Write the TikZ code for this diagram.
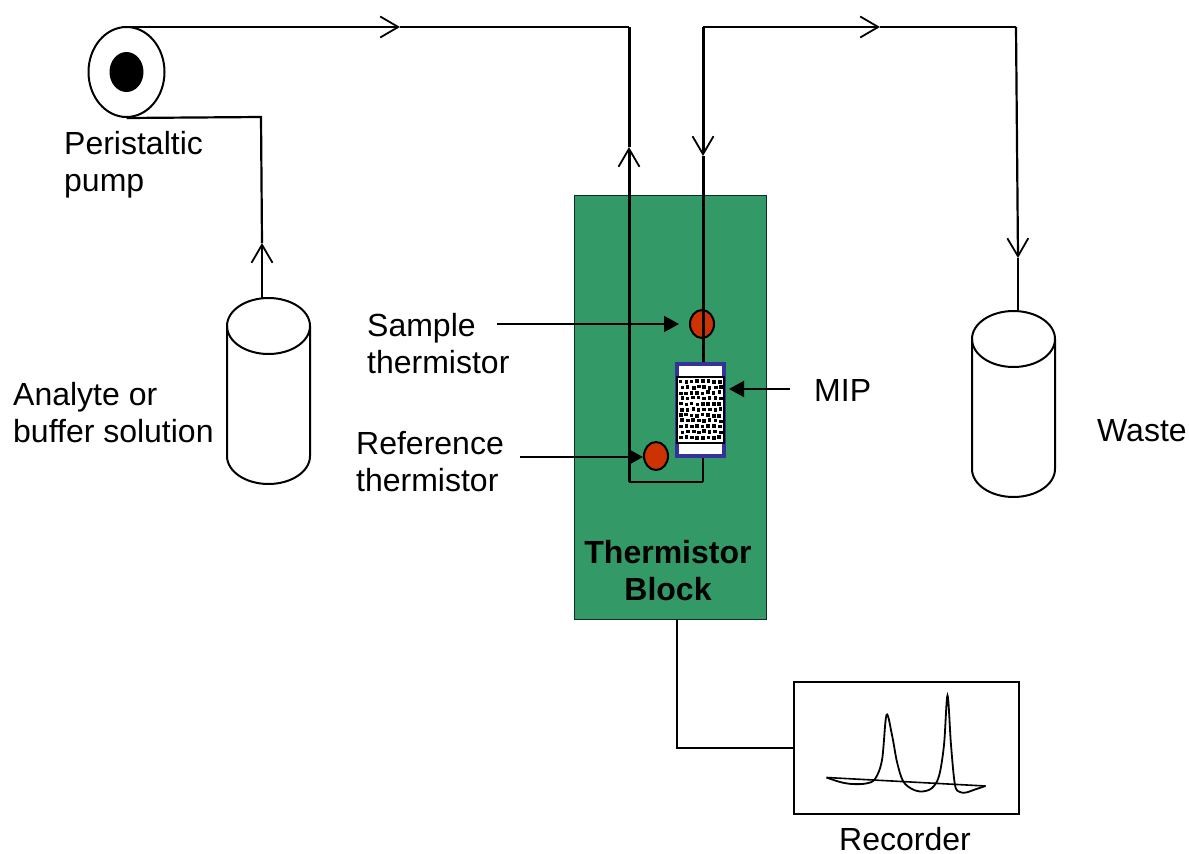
\documentclass[tikz,border=0pt]{standalone}
\usepackage{fontspec}
\setmainfont{Liberation Sans}
\usepackage{xcolor}
\usetikzlibrary{positioning,arrows.meta,shapes.geometric,calc}
\definecolor{blockgreen}{HTML}{339966}
\definecolor{thermred}{HTML}{CC3300}
\definecolor{mipblue}{HTML}{333399}

\begin{document}
\begin{tikzpicture}[
  x=1pt, y=-1pt,
  font=\fontsize{32}{37}\selectfont,
  lbl/.style={align=left, anchor=west, inner sep=0pt},
  tube/.style={draw, line width=2.2pt},
  thick tube/.style={draw, line width=3pt},
  flow/.style={-{Straight Barb[length=18pt,width=21pt,line width=1.8pt]}},
  pointer/.style={draw, line width=2pt, -{Triangle[length=15pt,width=16pt]}},
  lid/.style={draw, ellipse, line width=2pt, inner sep=0pt, outer sep=0pt, minimum width=83pt, minimum height=56pt},
  therm/.style={draw, ellipse, fill=thermred, line width=2pt, inner sep=0pt, minimum width=24pt, minimum height=28pt}]
\useasboundingbox (0,0) rectangle (1189,854);
% thermistor block
\node[draw=black!70!blockgreen, fill=blockgreen, line width=1pt, inner sep=0pt, minimum width=192pt, minimum height=424pt] (block) at (670,407) {};
% pump and vessels
\node[draw, ellipse, line width=2pt, inner sep=0pt, minimum width=76pt, minimum height=90pt] (pump) at (126.5,72) {};
\node[ellipse, fill=black, inner sep=0pt, minimum width=34pt, minimum height=40pt] (rotor) at (126.5,72) {};
\node[lid] (analyte) at (268.5,326) {};
\draw[line width=2pt] (analyte.west) -- ++(0,130) arc[start angle=180, end angle=360, x radius=41.5pt, y radius=28pt] -- (analyte.east);
\node[lid] (waste) at (1013.5,339) {};
\draw[line width=2pt] (waste.west) -- ++(0,130) arc[start angle=180, end angle=360, x radius=41.5pt, y radius=28pt] -- (waste.east);
% column
\node[draw=mipblue, fill=white, line width=4pt, inner sep=0pt, minimum width=47pt, minimum height=92pt] (mip) at (700.5,410) {};
\node[draw, fill=white, line width=2pt, inner sep=0pt, minimum width=47pt, minimum height=66pt] (bed) at (700.5,410) {};
\pgfmathsetseed{7}
\foreach \i in {0,...,10}
  \foreach \j in {0,...,7}
    \fill ({678.5+\j*5.5+mod(\i,2)*1.5+rnd*1},{379+\i*5.6+rnd*1.5}) rectangle ++(3.6,3.6);
\node[therm] (sample) at (702,324) {};
\node[therm] (reference) at (656,456) {};
% recorder
\node[draw, line width=2pt, inner sep=0pt, minimum width=225pt, minimum height=132pt] (recorder) at (906.5,748) {};
\draw[line width=1.6pt] (826.5,777.5) -- (985.5,786);
\draw[line width=1.8pt] plot[smooth, tension=0.55] coordinates {(826.5,777.5) (840,782) (852,784) (866,783.5) (875,779) (882,760) (886.5,715) (892,735) (897,762) (903,781) (912,789) (922,791.5) (932,788) (939,776) (944,745) (947.5,695.5) (951,745) (955,785) (960,792) (966,792.5) (975,789.5) (985.5,786)};
% coordinates on the tubing
\coordinate (pumpT) at (122,27);
\coordinate (topL) at (629,27);
\coordinate (botL) at (629,482);
\coordinate (botR) at (703,482);
\coordinate (topR) at (703,27);
\coordinate (topW) at (1016,27);
\coordinate (pumpE) at (261,117);
\coordinate (a1) at (400,27);
\coordinate (a2) at (629,147);
\coordinate (a3) at (703,156);
\coordinate (a4) at (1018,258);
\coordinate (a5) at (262,243);
\coordinate (a6) at (880,27);
% tubing
\draw[tube,flow] (a5 |- analyte.north) -- (a5);
\draw[tube] (a5) -- (pumpE) -- (pump.south);
\draw[tube,flow] (pumpT) -- (a1);
\draw[tube] (a1) -- (topL);
\draw[thick tube,flow] (botL) -- (a2);
\draw[thick tube] (a2) -- (topL);
\draw[tube] (botL) -- (botR);
\draw[tube] (mip.south -| botR) -- (botR);
\draw[thick tube,flow] (topR) -- (a3);
\draw[thick tube] (a3) -- (mip.north -| botR);
\draw[tube,flow] (topR) -- (a6);
\draw[tube] (a6) -- (topW);
\draw[tube,flow] (topW) -- (a4);
\draw[tube] (a4) -- (a4 |- waste.north);
% signal lead
\coordinate (leadK) at (677,748);
\draw[tube] (block.south -| leadK) -- (leadK) -- (recorder.west);
% labels
\node[lbl] (pumplbl) at (64,164.5) {Peristaltic\\pump};
\node[lbl] (analytelbl) at (13,412.5) {Analyte or\\buffer solution};
\node[lbl] (samplelbl) at (367,343.5) {Sample\\thermistor};
\node[lbl] (reflbl) at (356,461.5) {Reference\\thermistor};
\node[lbl] (miplbl) at (814,390) {MIP};
\node[lbl] (wastelbl) at (1097,431) {Waste};
\node[align=center, inner sep=0pt, font=\fontsize{32}{37}\selectfont\bfseries] (blocklbl) at (668,570.5) {Thermistor\\Block};
\node[inner sep=0pt] (reclbl) at (905,839) {Recorder};
% pointers
\coordinate (p1) at (497,324);
\coordinate (p2) at (520,457);
\coordinate (p3) at (790,389);
\draw[pointer,shorten >=10pt] (p1) -- (p1 -| sample.west);
\draw[pointer] (p2) -- (p2 -| reference.west);
\draw[pointer,shorten >=3pt] (p3) -- (p3 -| mip.east);
\end{tikzpicture}
\end{document}
